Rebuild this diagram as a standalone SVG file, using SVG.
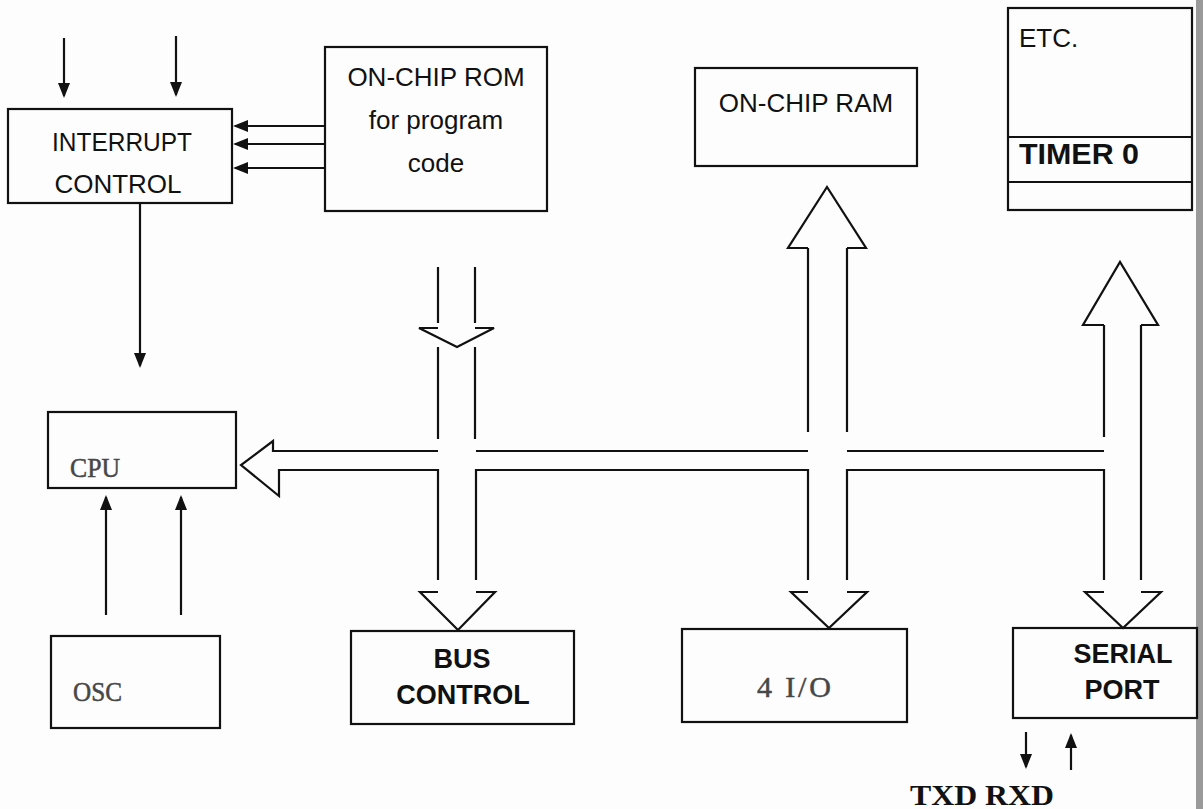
<svg xmlns="http://www.w3.org/2000/svg" width="1203" height="809" viewBox="0 0 1203 809">
<style>
.box{fill:none;stroke:#111;stroke-width:2.2}
.ln{fill:none;stroke:#111;stroke-width:2.2;stroke-linecap:butt;stroke-linejoin:miter}
.sans{font-family:"Liberation Sans",Arial,sans-serif;font-size:26px;fill:#111}
.bold{font-family:"Liberation Sans",Arial,sans-serif;font-size:27px;font-weight:bold;fill:#111}
.serif{font-family:"Liberation Serif","Times New Roman",serif;font-size:27px;fill:#474747;stroke:#474747;stroke-width:0.5}
.sb{font-family:"Liberation Serif","Times New Roman",serif;font-size:30px;font-weight:bold;fill:#111}
</style>
<defs>
<marker id="ah" viewBox="0 0 15 12" refX="13" refY="6" markerWidth="15" markerHeight="12" markerUnits="userSpaceOnUse" orient="auto">
<path d="M0,0 L15,6 L0,12 z" fill="#111"/>
</marker>
</defs>
<rect x="0" y="0" width="1203" height="809" fill="#fdfdfd"/>
<rect x="1196" y="0" width="7" height="809" fill="#9a9a9a"/>

<g id="interrupt-control">
<rect class="box" x="8" y="109" width="224" height="94"/>
<text class="sans" x="122" y="151" text-anchor="middle" textLength="140" lengthAdjust="spacingAndGlyphs">INTERRUPT</text>
<text class="sans" x="118" y="193" text-anchor="middle">CONTROL</text>
</g>
<g id="on-chip-rom">
<rect class="box" x="325" y="47" width="222" height="164"/>
<text class="sans" x="436" y="86" text-anchor="middle">ON-CHIP ROM</text>
<text class="sans" x="436" y="129" text-anchor="middle">for program</text>
<text class="sans" x="436" y="172" text-anchor="middle">code</text>
</g>
<g id="on-chip-ram">
<rect class="box" x="695" y="68" width="222" height="98"/>
<text class="sans" x="806" y="112" text-anchor="middle">ON-CHIP RAM</text>
</g>
<g id="timer">
<rect class="box" x="1008" y="8" width="184" height="202"/>
<line class="ln" x1="1008" y1="137" x2="1192" y2="137"/>
<line class="ln" x1="1008" y1="182" x2="1192" y2="182"/>
<text class="sans" x="1019" y="47">ETC.</text>
<text class="bold" x="1019" y="164" style="font-size:29px" textLength="120" lengthAdjust="spacingAndGlyphs">TIMER 0</text>
</g>
<g id="cpu">
<rect class="box" x="48" y="412" width="188" height="76"/>
<text class="serif" x="70" y="477" textLength="50" lengthAdjust="spacingAndGlyphs">CPU</text>
</g>
<g id="osc">
<rect class="box" x="51" y="636" width="169" height="92"/>
<text class="serif" x="73" y="701" textLength="49" lengthAdjust="spacingAndGlyphs">OSC</text>
</g>
<g id="bus-control">
<rect class="box" x="351" y="631" width="223" height="93"/>
<text class="bold" x="462" y="668" text-anchor="middle">BUS</text>
<text class="bold" x="463" y="704" text-anchor="middle">CONTROL</text>
</g>
<g id="io">
<rect class="box" x="682" y="629" width="225" height="93"/>
<text class="serif" x="757" y="697" style="font-size:30px" textLength="74" lengthAdjust="spacing">4 I/O</text>
</g>
<g id="serial-port">
<rect class="box" x="1013" y="628" width="184" height="90"/>
<text class="bold" x="1123" y="663" text-anchor="middle">SERIAL</text>
<text class="bold" x="1122" y="699" text-anchor="middle">PORT</text>
</g>
<g id="txd-rxd">
<text class="sb" x="910" y="805" textLength="144" lengthAdjust="spacingAndGlyphs">TXD RXD</text>
</g>

<g id="connectors">
<path class="ln" d="M64,38 V96" marker-end="url(#ah)"/>
<path class="ln" d="M176,36 V95" marker-end="url(#ah)"/>
<path class="ln" d="M325,126 H235" marker-end="url(#ah)"/>
<path class="ln" d="M325,144 H235" marker-end="url(#ah)"/>
<path class="ln" d="M325,168 H235" marker-end="url(#ah)"/>
<path class="ln" d="M140,203 V366" marker-end="url(#ah)"/>
<path class="ln" d="M106,615 V497" marker-end="url(#ah)"/>
<path class="ln" d="M181,615 V497" marker-end="url(#ah)"/>
<path class="ln" d="M1026,732 V767" marker-end="url(#ah)"/>
<path class="ln" d="M1071,770 V735" marker-end="url(#ah)"/>

<path class="ln" d="M438,267 V323 M475,267 V323"/>
<path class="ln" d="M438,328 H419 L457,347 L494,328 H475"/>
<path class="ln" d="M438,347 V439 M475,347 V439"/>

<path class="ln" d="M808,248 H788 L827,187 L866,248 H847"/>
<path class="ln" d="M808,248 V432 M847,248 V432"/>

<path class="ln" d="M1104,325 H1083 L1120,262 L1158,325 H1141"/>
<path class="ln" d="M1104,325 V437"/>
<path class="ln" d="M1141,325 V580"/>

<path class="ln" d="M438,451 H273 V441 L241,465 L279,496 V470 H438 V580"/>
<path class="ln" d="M476,451 H808 M847,451 H1104"/>
<path class="ln" d="M476,580 V470 H808 V580"/>
<path class="ln" d="M847,580 V470 H1104 V580"/>

<path class="ln" d="M438,592 H420 L458,630 L495,592 H476"/>
<path class="ln" d="M808,592 H791 L829,628 L867,592 H847"/>
<path class="ln" d="M1104,592 H1085 L1123,628 L1161,592 H1141"/>
</g>
</svg>
